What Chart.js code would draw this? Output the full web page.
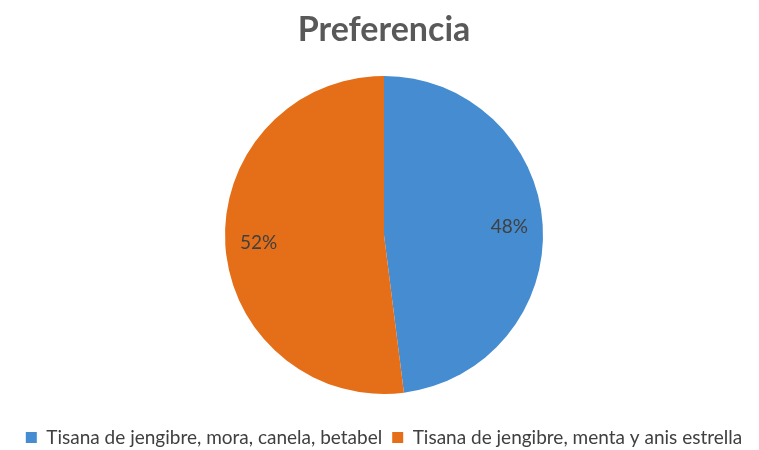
<!DOCTYPE html>
<html>
<head>
<meta charset="utf-8">
<script src="https://cdn.jsdelivr.net/npm/chart.js@4/dist/chart.umd.min.js"></script>
<style>
html,body{margin:0;padding:0;background:#fff;}
#wrap{width:759px;height:450px;position:relative;}
</style>
</head>
<body>
<div id="wrap"><canvas id="c" width="759" height="450"></canvas></div>
<script>
const titleText = "Preferencia";
const categories = ["Tisana de jengibre, mora, canela, betabel", "Tisana de jengibre, menta y anis estrella"];
const values = [48, 52];
const colors = ["#458CD1", "#E56F19"];

const labelPlugin = {
  id: 'sliceLabels',
  afterDatasetsDraw(chart) {
    const ctx = chart.ctx;
    const meta = chart.getDatasetMeta(0);
    const data = chart.data.datasets[0].data;
    const total = data.reduce((a, b) => a + b, 0);
    ctx.save();
    ctx.font = '19px Lato, "Open Sans", sans-serif';
    ctx.fillStyle = '#404040';
    ctx.textAlign = 'center';
    ctx.textBaseline = 'middle';
    meta.data.forEach((arc, i) => {
      const p = arc.getProps(['x','y','startAngle','endAngle','outerRadius'], true);
      const mid = (p.startAngle + p.endAngle) / 2;
      const r = p.outerRadius * 0.79;
      ctx.fillText(Math.round(data[i] / total * 100) + '%', p.x + Math.cos(mid) * r, p.y + Math.sin(mid) * r);
    });
    ctx.restore();
  }
};

new Chart(document.getElementById('c'), {
  type: 'pie',
  data: {
    labels: categories,
    datasets: [{
      data: values,
      backgroundColor: colors,
      borderColor: '#ffffff',
      borderWidth: 0
    }]
  },
  options: {
    responsive: false,
    animation: false,
    radius: 159,
    layout: { padding: { top: 0, bottom: -7, left: 9, right: 0 } },
    plugins: {
      title: {
        display: true,
        text: titleText,
        color: '#595959',
        font: { family: 'Lato, "Open Sans", sans-serif', size: 34, weight: 'bold' },
        padding: { top: 10, bottom: 1 }
      },
      legend: {
        position: 'bottom',
        labels: {
          color: '#404040',
          font: { family: 'Lato, "Open Sans", sans-serif', size: 19 },
          boxWidth: 11,
          boxHeight: 11,
          padding: 10
        }
      },
      tooltip: { enabled: false }
    }
  },
  plugins: [labelPlugin]
});
</script>
</body>
</html>
